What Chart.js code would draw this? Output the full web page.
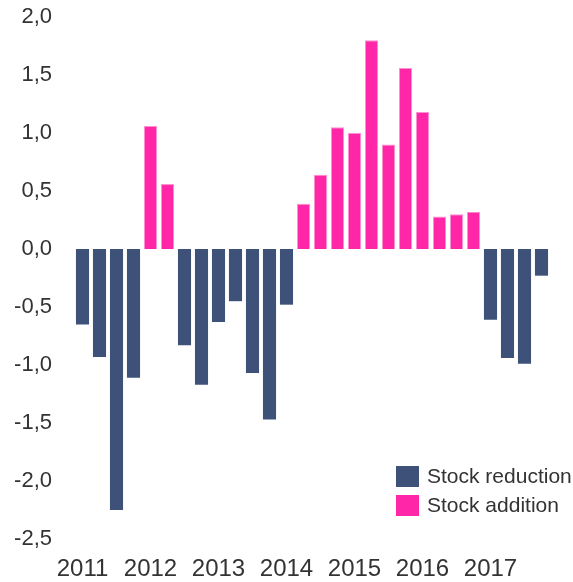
<!DOCTYPE html>
<html>
<head>
<meta charset="utf-8">
<script src="https://cdn.jsdelivr.net/npm/chart.js@4/dist/chart.umd.min.js"></script>
<style>
  html, body { margin: 0; padding: 0; background: #fff; }
  #wrap { width: 573px; height: 582px; }
</style>
</head>
<body>
<div id="wrap"><canvas id="stockChart" width="573" height="582"></canvas></div>
<script>
// années affichées sous le premier trimestre
const years = ['2011', '2012', '2013', '2014', '2015', '2016', '2017'];
const quarters = ['Q1', 'Q2', 'Q3', 'Q4'];

// valeurs trimestrielles (null = pas de barre pour cette série)
const stockReduction = [
    -0.65, -0.93, -2.25, -1.11,
    null, null, -0.83, -1.17,
    -0.63, -0.45, -1.07, -1.47,
    -0.48, null, null, null,
    null, null, null, null,
    null, null, null, null,
    -0.61, -0.94, -0.99, -0.23
];
const stockAddition = [
    null, null, null, null,
    1.06, 0.56, null, null,
    null, null, null, null,
    null, 0.39, 0.64, 1.05,
    1.00, 1.80, 0.90, 1.56,
    1.18, 0.28, 0.30, 0.32,
    null, null, null, null
];
const seriesNames = ['Stock reduction', 'Stock addition'];
const seriesColors = ['#3e5279', '#ff27a7'];

const labels = [];
years.forEach(y => quarters.forEach(q => labels.push(y + ' ' + q)));

const textColor = '#333333';
const fontFamily = '"Liberation Sans", Arial, sans-serif';

// Légende dessinée en bas à droite dans la zone du graphique
const cornerLegend = {
    id: 'cornerLegend',
    afterDraw(chart) {
        const ctx = chart.ctx;
        const x = 396, y0 = 466;
        ctx.save();
        ctx.font = '21px ' + fontFamily;
        ctx.textBaseline = 'middle';
        chart.data.datasets.forEach((ds, i) => {
            const y = y0 + i * 29;
            ctx.fillStyle = ds.backgroundColor;
            ctx.fillRect(x, y, 23, 21);
            ctx.fillStyle = textColor;
            ctx.fillText(ds.label, x + 31, y + 11);
        });
        ctx.restore();
    }
};

const ctx = document.getElementById('stockChart').getContext('2d');
new Chart(ctx, {
    type: 'bar',
    data: {
        labels: labels,
        datasets: [
            {
                label: seriesNames[0],
                data: stockReduction,
                backgroundColor: seriesColors[0],
                borderWidth: 0
            },
            {
                label: seriesNames[1],
                data: stockAddition,
                backgroundColor: seriesColors[1],
                borderColor: '#ff8fcf',
                borderWidth: 1
            }
        ]
    },
    options: {
        responsive: false,
        animation: false,
        layout: { padding: { left: 0, right: 23, top: 17, bottom: 0 } },
        datasets: { bar: { categoryPercentage: 1.0, barPercentage: 0.77 } },
        scales: {
            x: {
                stacked: true,
                grid: { display: false },
                border: { display: false },
                afterFit: scale => { scale.height = 43; },
                ticks: {
                    autoSkip: false,
                    maxRotation: 0,
                    padding: 8,
                    color: textColor,
                    font: { family: fontFamily, size: 24 },
                    callback: function (value, index) {
                        return index % 4 === 0 ? years[index / 4] : '';
                    }
                }
            },
            y: {
                stacked: true,
                min: -2.5,
                max: 2.0,
                grid: { display: false },
                border: { display: false },
                afterFit: scale => {
                    scale.width = 74;
                    scale.paddingTop = 0;
                    scale.paddingBottom = 0;
                },
                ticks: {
                    stepSize: 0.5,
                    padding: 14,
                    color: textColor,
                    font: { family: fontFamily, size: 22 },
                    callback: v => v.toFixed(1).replace('.', ',')
                }
            }
        },
        plugins: {
            legend: { display: false },
            tooltip: { enabled: false }
        }
    },
    plugins: [cornerLegend]
});
</script>
</body>
</html>
